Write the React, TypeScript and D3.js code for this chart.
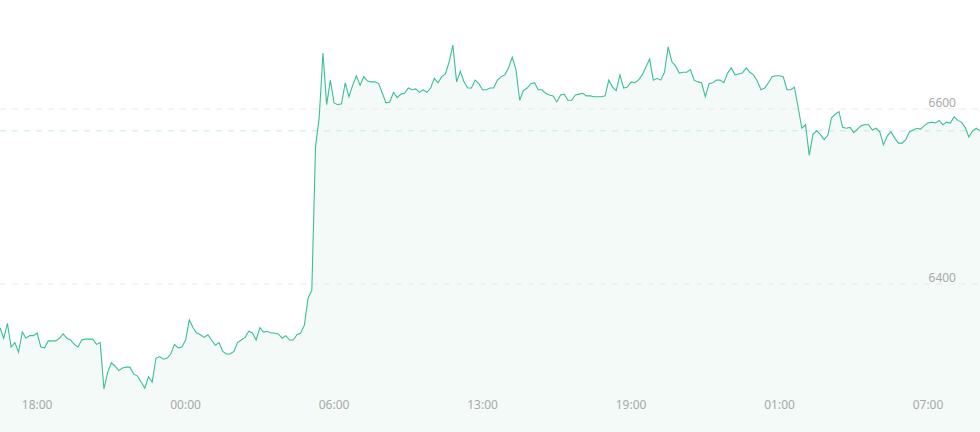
import React from "react";
import * as d3 from "d3";

const W = 980;
const H = 432;

const prices: number[] = [
  6350, 6338, 6355, 6328, 6333, 6322, 6345, 6338, 6341, 6341,
  6344, 6328, 6327, 6335, 6335, 6335, 6338, 6343, 6338, 6336,
  6331, 6328, 6336, 6337, 6337, 6337, 6331, 6333, 6280, 6299,
  6310, 6306, 6301, 6304, 6305, 6305, 6297, 6295, 6288, 6281,
  6294, 6288, 6315, 6317, 6314, 6315, 6320, 6331, 6327, 6328,
  6336, 6359, 6350, 6344, 6342, 6339, 6342, 6336, 6330, 6333,
  6323, 6320, 6320, 6323, 6333, 6336, 6339, 6346, 6344, 6336,
  6350, 6345, 6346, 6344, 6344, 6343, 6338, 6341, 6336, 6336,
  6342, 6344, 6353, 6384, 6393, 6557, 6591, 6664, 6605, 6633,
  6607, 6605, 6606, 6630, 6614, 6627, 6638, 6627, 6637, 6632,
  6631, 6631, 6629, 6618, 6607, 6608, 6619, 6613, 6617, 6618,
  6624, 6622, 6623, 6619, 6622, 6619, 6624, 6635, 6630, 6637,
  6640, 6654, 6673, 6631, 6643, 6631, 6624, 6624, 6633, 6629,
  6622, 6622, 6624, 6624, 6633, 6637, 6639, 6647, 6659, 6645,
  6610, 6621, 6624, 6629, 6630, 6622, 6622, 6618, 6616, 6615,
  6608, 6616, 6617, 6610, 6610, 6616, 6617, 6618, 6615, 6615,
  6614, 6614, 6614, 6615, 6633, 6625, 6621, 6639, 6624, 6625,
  6631, 6630, 6633, 6639, 6648, 6657, 6633, 6635, 6633, 6642,
  6671, 6654, 6649, 6641, 6642, 6642, 6645, 6633, 6631, 6630,
  6614, 6629, 6630, 6633, 6633, 6630, 6641, 6647, 6639, 6640,
  6641, 6647, 6642, 6639, 6632, 6622, 6624, 6630, 6637, 6638,
  6638, 6637, 6622, 6622, 6625, 6602, 6578, 6582, 6547, 6571,
  6575, 6571, 6565, 6570, 6590, 6594, 6597, 6579, 6578, 6579,
  6573, 6577, 6581, 6582, 6582, 6576, 6578, 6574, 6559, 6569,
  6574, 6567, 6561, 6561, 6565, 6574, 6576, 6578, 6577, 6581,
  6584, 6585, 6584, 6587, 6582, 6585, 6584, 6591, 6587, 6585,
  6579, 6568, 6575, 6578, 6575,
];

const xTickLabels: string[] = ["18:00", "00:00", "06:00", "13:00", "19:00", "01:00", "07:00"];
const xTickIndex: number[] = [10, 50, 90, 130, 170, 210, 250];
const yTicks: number[] = [6400, 6600];

export default function App() {
  const x = d3.scaleLinear().domain([0, prices.length - 1]).range([0, W]);
  const y = d3.scaleLinear().domain([6400, 6600]).range([284, 109]);

  const line = d3
    .line<number>()
    .x((_, i) => x(i))
    .y((d) => y(d));
  const area = d3
    .area<number>()
    .x((_, i) => x(i))
    .y0(H)
    .y1((d) => y(d));

  const last = prices[prices.length - 1];

  return (
    <svg
      width={W}
      height={H}
      style={{ position: "absolute", left: 0, top: 0, display: "block" }}
      fontFamily="'Noto Sans', 'DejaVu Sans', sans-serif"
    >
      <rect x={0} y={0} width={W} height={H} fill="#ffffff" />
      <path d={area(prices) || ""} fill="#f3faf8" />
      {yTicks.map((t) => (
        <line
          key={t}
          x1={0}
          x2={W}
          y1={y(t)}
          y2={y(t)}
          stroke="#e6e9e8"
          strokeWidth={1}
          strokeDasharray="6,6"
        />
      ))}
      <line
        x1={0}
        x2={W}
        y1={y(last)}
        y2={y(last)}
        stroke="#c3ecdc"
        strokeWidth={1}
        strokeDasharray="6,6"
      />
      <path d={line(prices) || ""} fill="none" stroke="#3dbf94" strokeWidth={1.1} />
      {yTicks.map((t) => (
        <text key={"l" + t} x={956} y={y(t) - 2} textAnchor="end" fontSize={12} fill="#a9a9a9">
          {t}
        </text>
      ))}
      {xTickIndex.map((idx, k) => (
        <text key={"x" + k} x={x(idx)} y={409} textAnchor="middle" fontSize={12} fill="#a9a9a9">
          {xTickLabels[k]}
        </text>
      ))}
    </svg>
  );
}
